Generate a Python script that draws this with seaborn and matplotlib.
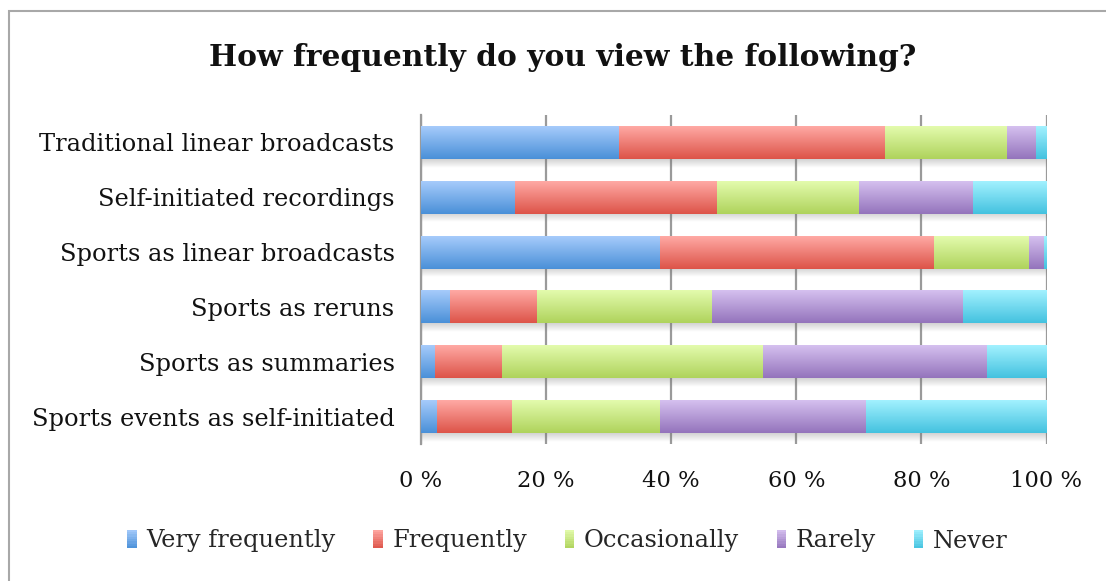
import numpy as np
import pandas as pd
import matplotlib
matplotlib.use("Agg")
import matplotlib.pyplot as plt
import seaborn as sns
from matplotlib.colors import LinearSegmentedColormap
from matplotlib.patches import Rectangle
from matplotlib.legend_handler import HandlerBase

categories = [
    "Traditional linear broadcasts",
    "Self-initiated recordings",
    "Sports as linear broadcasts",
    "Sports as reruns",
    "Sports as summaries",
    "Sports events as self-initiated",
]
responses = ["Very frequently", "Frequently", "Occasionally", "Rarely", "Never"]

very_frequently = [31.7, 15.1, 38.2, 4.6, 2.3, 2.6]
frequently = [42.5, 32.3, 43.8, 14.0, 10.6, 12.0]
occasionally = [19.5, 22.6, 15.2, 28.0, 41.8, 23.6]
rarely = [4.7, 18.2, 2.4, 40.0, 35.8, 33.0]
never = [1.6, 11.8, 0.4, 13.4, 9.5, 28.8]

tick_values = [0, 20, 40, 60, 80, 100]
tick_labels = ["0 %", "20 %", "40 %", "60 %", "80 %", "100 %"]

# (top, bottom) colours of each gradient-filled segment
gradients = {
    "Very frequently": ("#A6CBFB", "#4A90D8"),
    "Frequently": ("#FFA9A4", "#DD5449"),
    "Occasionally": ("#E3FBAD", "#AFD35C"),
    "Rarely": ("#D5C0EF", "#9474BC"),
    "Never": ("#A2F1FF", "#44C2DF"),
}

series = {
    "Very frequently": very_frequently,
    "Frequently": frequently,
    "Occasionally": occasionally,
    "Rarely": rarely,
    "Never": never,
}

sns.set_theme(style="white")
plt.rcParams["font.family"] = ["DejaVu Serif"]

fig = plt.figure(figsize=(11.06, 5.81), dpi=100)
ax = fig.add_axes([421 / 1106, 1 - 444 / 581, 625.5 / 1106, 329 / 581])

grad = np.linspace(0, 1, 64).reshape(-1, 1)
left = np.zeros(len(categories))
bar_height = 0.6
for name in responses:
    vals = np.array(series[name], dtype=float)
    df = pd.DataFrame({"category": categories, "value": vals})
    n_before = len(ax.patches)
    sns.barplot(data=df, x="value", y="category", orient="h", color=gradients[name][1],
                width=bar_height, ax=ax, saturation=1, zorder=3)
    new_patches = ax.patches[n_before:]
    cmap = LinearSegmentedColormap.from_list(name, list(gradients[name]))
    for p, l in zip(new_patches, left):
        p.set_x(l)
        p.set_linewidth(0)
        x0, y0, w, h = p.get_x(), p.get_y(), p.get_width(), p.get_height()
        im = ax.imshow(grad, cmap=cmap, aspect="auto", origin="upper",
                       extent=(x0, x0 + w, y0 + h, y0), zorder=4, interpolation="bilinear")
        im.set_clip_path(p)
    left += vals

# soft shadow under each bar
shadow_rgba = np.zeros((32, 1, 4))
shadow_rgba[..., :3] = 0.45
shadow_rgba[..., 3] = np.linspace(0.32, 0.0, 32).reshape(-1, 1)
for i, tot in enumerate(left):
    y_bottom = i + bar_height / 2
    ax.imshow(shadow_rgba, aspect="auto", origin="upper",
              extent=(0.2, tot + 0.5, y_bottom + 0.16, y_bottom), zorder=2,
              interpolation="bilinear")

ax.set_xlim(0, 100)
ax.set_ylim(len(categories) - 0.5, -0.5)

ax.set_xticks(tick_values)
ax.set_xticklabels(tick_labels, fontsize=16.3, color="#111111")
ax.tick_params(axis="x", length=0, pad=19)
ax.tick_params(axis="y", length=0, pad=19, labelsize=17.4, labelcolor="#111111")
ax.set_xlabel("")
ax.set_ylabel("")

ax.grid(axis="x", color="#9A9A9A", linewidth=1.6, zorder=1)
ax.grid(axis="y", visible=False)
for side in ["top", "right", "bottom"]:
    ax.spines[side].set_visible(False)
ax.spines["left"].set_color("#9A9A9A")
ax.spines["left"].set_linewidth(1.6)
ax.set_axisbelow(True)

fig.text(0.5 * (207 + 918) / 1106, 1 - 58 / 581, "How frequently do you view the following?",
         ha="center", va="center", fontsize=21.4, fontweight="bold", color="#111111")


class GradientSwatch(HandlerBase):
    """Legend key drawn as a small vertical-gradient block."""

    def __init__(self, colors):
        super().__init__()
        self.colors = colors

    def create_artists(self, legend, orig_handle, xdescent, ydescent, width, height,
                       fontsize, trans):
        top, bottom = self.colors[orig_handle.get_label()]
        n = 8
        top_rgb = np.array(matplotlib.colors.to_rgb(top))
        bot_rgb = np.array(matplotlib.colors.to_rgb(bottom))
        artists = []
        for k in range(n):
            c = top_rgb + (bot_rgb - top_rgb) * (k + 0.5) / n
            r = Rectangle((-xdescent, -ydescent + height * (n - 1 - k) / n), width, height / n,
                          facecolor=c, edgecolor="none", transform=trans)
            artists.append(r)
        return artists


handles = [Rectangle((0, 0), 1, 1, label=n) for n in responses]
fig.legend(handles, responses, loc="center", bbox_to_anchor=(0.513, 1 - 541 / 581),
           ncol=5, frameon=False, fontsize=17.4, handlelength=0.4, handleheight=0.8,
           handletextpad=0.4, columnspacing=1.55,
           handler_map={Rectangle: GradientSwatch(gradients)})

fig.patches.append(Rectangle((9 / 1106, -0.05), 1.2, 1 - 11 / 581 + 0.05,
                             transform=fig.transFigure, fill=False,
                             edgecolor="#A8A8A8", linewidth=1.5, zorder=0))

fig.savefig("out.png", dpi=100)
